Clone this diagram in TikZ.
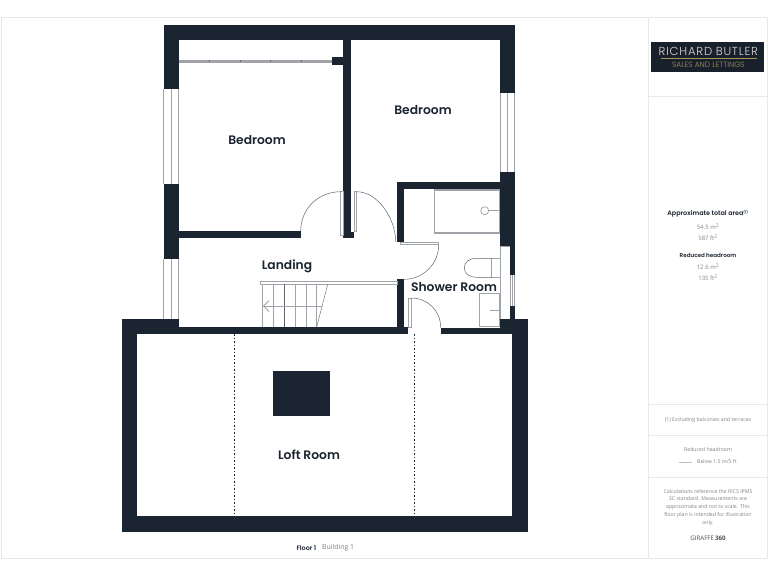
\documentclass[tikz,border=0pt]{standalone}
\usepackage{fontspec}
\setmainfont{Poppins Light}
\newfontfamily\notefont{Open Sans}
\newfontfamily\roomfont{Poppins SemiBold}
\definecolor{wallcol}{HTML}{1B2431}
\definecolor{fixcol}{HTML}{A0A3A7}
\definecolor{framecol}{HTML}{E8E9EA}
\definecolor{notecol}{HTML}{7F8389}
\definecolor{goldcol}{HTML}{A8955A}
\tikzset{
	wall/.style={fill=wallcol,draw=none},
	fixture/.style={draw=fixcol,line width=0.7pt},
	doorline/.style={draw=wallcol!70,line width=0.5pt},
	frameline/.style={draw=framecol,line width=0.8pt},
	roomlabel/.style={text=wallcol,font=\roomfont\fontsize{12.3}{14}\selectfont,inner sep=0pt},
	notelabel/.style={text=notecol,font=\notefont\fontsize{5.2}{7.75}\selectfont,inner sep=0pt,align=center},
	numlabel/.style={text=notecol,font=\notefont\fontsize{6}{7}\selectfont,inner sep=0pt},
	headlabel/.style={text=wallcol,font=\roomfont\fontsize{6.4}{7}\selectfont,inner sep=0pt}
}
\begin{document}
\begin{tikzpicture}[x=1pt,y=-1pt]
	\useasboundingbox (0,0) rectangle (768,576);
	\fill[white] (0,0) rectangle (768,576);

	% page frame
	\draw[frameline] (1,17.5) rectangle (767,558);
	\draw[frameline] (648,17.5) -- (648,558);
	\draw[frameline] (648,96) -- (767,96);
	\draw[frameline] (648,404) -- (767,404);
	\draw[frameline] (648,435) -- (767,435);
	\draw[frameline] (648,477) -- (767,477);

	% walls upper floor
	\fill[wall] (163.5,24.5) rectangle (515,39.5);
	\fill[wall] (163.5,24.5) rectangle (178.5,89);
	\fill[wall] (163.5,184) rectangle (178.5,259);
	\fill[wall] (500,24.5) rectangle (515,93);
	\fill[wall] (500,172) rectangle (515,246);
	\fill[wall] (509.7,246) rectangle (515,275);
	\fill[wall] (509.7,306) rectangle (515,319);
	\fill[wall] (178,230.7) rectangle (300.7,238);
	\fill[wall] (343.3,39) rectangle (350.7,238);
	\fill[wall] (350.7,231.5) rectangle (354.3,238);
	\fill[wall] (331.7,57.3) rectangle (343.5,64.7);
	\fill[wall] (397.3,181.7) rectangle (500.5,189);
	\fill[wall] (397.3,181.7) rectangle (404.3,241.7);
	\fill[wall] (397.3,279.3) rectangle (404.3,334);

	% walls loft
	\fill[wall] (122,319) rectangle (178.5,334);
	\fill[wall] (122,319) rectangle (137.3,532.3);
	\fill[wall] (122,516) rectangle (528.3,532.3);
	\fill[wall] (512.3,319) rectangle (528.3,532.3);
	\fill[wall] (500,319) rectangle (528.3,334);
	\fill[wall] (178,327) rectangle (408.3,334);
	\fill[wall] (440.7,327.5) rectangle (500.5,334);
	\fill[wall] (273,371) rectangle (330,416);

	% windows
	\foreach \wx in {163.5,171,178}{
		\draw[fixture] (\wx,89) -- (\wx,184);
		\draw[fixture] (\wx,259) -- (\wx,319);
	}
	\foreach \wx in {500,507.5,514.5}{
		\draw[fixture] (\wx,93) -- (\wx,172);
	}
	\foreach \wx in {510.3,512.4,514.5}{
		\draw[fixture] (\wx,275) -- (\wx,306);
	}
	\draw[fixture] (500,246) -- (500,319);
	\draw[fixture] (500,246) -- (509.7,246);

	% wardrobe rail
	\draw[fixcol,line width=3pt] (178.5,61) -- (331.7,61);
	\foreach \tx in {209.3,240,270.3,301}{
		\fill[wallcol!70] (\tx-0.5,60) rectangle (\tx+0.5,62);
	}

	% doors
	\draw[fixture] (340.7,191.7) rectangle (343.3,235);
	\draw[fixture] (354.3,191.7) rectangle (356.7,231.5);
	\draw[doorline] (340.7,191.7) .. controls (318,191.7) and (300.7,209) .. (300.7,231);
	\draw[doorline] (356.7,191.7) .. controls (378,191.7) and (395.7,219) .. (395.7,241.7);
	\draw[fixture] (400.5,242.7) rectangle (438.7,244.7);
	\draw[doorline] (438.7,244.7) .. controls (438.7,264) and (423,279.3) .. (404.3,279.3);
	\draw[fixture] (408.3,298) rectangle (411,327);
	\draw[doorline] (411,298) .. controls (428,298) and (440.7,311) .. (440.7,327.5);

	% stairs
	\draw[fixture,fill=white] (260,281.7) rectangle (397.3,284.3);
	\foreach \sx in {262.7,273.5,295.5,306,316.7}{
		\draw[fixcol,line width=0.8pt] (\sx,284.3) -- (\sx,327);
	}
	\draw[wallcol!70,line width=0.6pt] (284.5,284.3) -- (284.5,327);
	\draw[wallcol!60,line width=0.5pt] (327.7,284.3) -- (316.7,327);
	\draw[fixcol,line width=0.8pt] (322,306) -- (263.5,306);
	\draw[fixcol,line width=0.8pt] (269,300.5) -- (263.5,306) -- (269,311.5);

	% bath
	\draw[fixture,line width=1.6pt] (434.5,190) rectangle (499.3,232.7);
	\draw[fixture] (484.7,210.7) circle (4);
	\draw[fixture] (488.7,210.7) -- (499.3,210.7);

	% toilet
	\draw[fixture] (491.7,258.3) rectangle (500,277.3);
	\draw[doorline] (491.7,258.3) -- (477,258.3) .. controls (469,258.3) and (464.3,262) .. (464.3,267.8) .. controls (464.3,273.5) and (469,277.3) .. (477,277.3) -- (491.7,277.3);

	% sink
	\draw[fixture,line width=1.1pt] (479.5,293.5) rectangle (499.5,326.2);
	\draw[fixture] (489.7,310) -- (499.5,310);

	% loft dotted lines
	\draw[wallcol,line width=1pt,dash pattern=on 1.5pt off 2pt] (234,334) -- (234,516);
	\draw[wallcol,line width=1pt,dash pattern=on 1.5pt off 2pt] (414,334) -- (414,516);

	% room labels
	\node[roomlabel] (bedroomL) at (257,140) {Bedroom};
	\node[roomlabel] (bedroomR) at (423,110) {Bedroom};
	\node[roomlabel] (landing) at (287,266.5) {Landing};
	\node[roomlabel] (shower) at (454,287) {Shower Room};
	\node[roomlabel] (loft) at (309,455) {Loft Room};

	% floor caption
	\node[headlabel,anchor=east] (floorA) at (316.5,548) {Floor 1};
	\node[numlabel,anchor=west,font=\notefont\fontsize{6.9}{8}\selectfont] (floorB) at (322,548) {Building 1};

	% logo
	\fill[wallcol!90!black] (650.7,41.7) rectangle (764.3,71.7);
	\node[inner sep=0pt,text=white!85!black,font=\fontsize{11.6}{12}\selectfont] (logoA) at (708.3,51) {R\kern0.8pt I\kern0.8pt C\kern0.8pt H\kern0.8pt A\kern0.8pt R\kern0.8pt D\kern3.5pt B\kern0.8pt U\kern0.8pt T\kern0.8pt L\kern0.8pt E\kern0.8pt R};
	\draw[goldcol,line width=0.8pt] (661,58.3) -- (757,58.3);
	\node[inner sep=0pt,text=goldcol,font=\fontsize{7.6}{8}\selectfont] (logoB) at (708.3,64.8) {SALES AND LETTINGS};

	% side panel
	\node[headlabel] (areaA) at (708,213.5) {Approximate total area\textsuperscript{\fontsize{3.5}{4}\selectfont(1)}};
	\node[numlabel] (areaB) at (708,226.5) {54.5 m\textsuperscript{2}};
	\node[numlabel] (areaC) at (708,237.5) {587 ft\textsuperscript{2}};
	\node[headlabel,font=\roomfont\fontsize{5.6}{7}\selectfont] (headA) at (708,255) {Reduced headroom};
	\node[numlabel] (headB) at (708,266.5) {12.6 m\textsuperscript{2}};
	\node[numlabel] (headC) at (708,277.5) {135 ft\textsuperscript{2}};
	\node[notelabel] (excl) at (708,420) {(1) Excluding balconies and terraces};
	\node[notelabel] (keyA) at (708,450) {Reduced headroom};
	\draw[fixcol!70,line width=0.4pt] (679,462) -- (692,462);
	\node[notelabel,anchor=west] (keyB) at (697,462) {Below 1.5 m/5 ft};
	\node[notelabel,anchor=north] (calc) at (708,489) {Calculations reference the RICS IPMS\\3C standard. Measurements are\\approximate and not to scale. This\\floor plan is intended for illustration\\only.};
	\node[notelabel,text=wallcol!80,font=\notefont\fontsize{6.2}{7}\selectfont] (giraffe) at (708,538) {GIRAFFE\,\textbf{360}};
\end{tikzpicture}
\end{document}
